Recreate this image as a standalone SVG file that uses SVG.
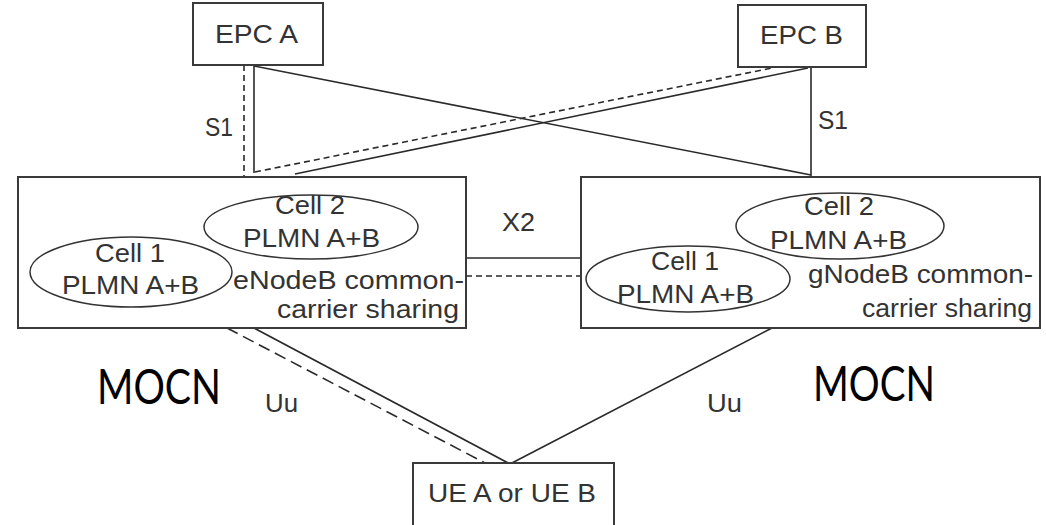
<svg xmlns="http://www.w3.org/2000/svg" width="1046" height="525" viewBox="0 0 1046 525">
<style>
.box{fill:#fff;stroke:#3a3a3a;stroke-width:2}
.cell{fill:none;stroke:#333;stroke-width:1.5}
.ln{fill:none;stroke:#2a2a2a;stroke-width:1.6}
.dash{fill:none;stroke:#2a2a2a;stroke-width:1.6;stroke-dasharray:6,4}
.dashL{fill:none;stroke:#2a2a2a;stroke-width:1.6;stroke-dasharray:12,6}
.t{font-family:"Liberation Sans",Arial,sans-serif;font-size:25px;fill:#333}
.m{font-family:Lato,"Liberation Sans",sans-serif;font-size:48px;fill:#000}
</style>
<rect width="1046" height="525" fill="#fff"/>
<g id="connectors">
<line class="dash" x1="244" y1="65" x2="244" y2="177"/>
<line class="ln" x1="254" y1="65" x2="254" y2="173"/>
<line class="ln" x1="254" y1="66" x2="811" y2="175"/>
<line class="dash" x1="255" y1="172" x2="772" y2="68"/>
<line class="ln" x1="295" y1="174" x2="808" y2="68"/>
<line class="ln" x1="811" y1="67" x2="811" y2="177"/>
<line class="ln" x1="466" y1="258" x2="580" y2="258"/>
<line class="dash" x1="466" y1="276" x2="580" y2="276"/>
<line class="dashL" x1="227" y1="328" x2="487" y2="464"/>
<line class="ln" x1="254" y1="328" x2="510" y2="464"/>
<line class="ln" x1="510" y1="464" x2="772" y2="328"/>
<text class="t" x="205" y="136" textLength="28" lengthAdjust="spacingAndGlyphs">S1</text>
<text class="t" x="818" y="129" textLength="30" lengthAdjust="spacingAndGlyphs">S1</text>
<text class="t" x="502" y="231" textLength="33" lengthAdjust="spacingAndGlyphs">X2</text>
<text class="t" x="265" y="412" textLength="33" lengthAdjust="spacingAndGlyphs">Uu</text>
<text class="t" x="707" y="412" textLength="35" lengthAdjust="spacingAndGlyphs">Uu</text>
</g>
<g id="epcA">
<rect class="box" x="193" y="3" width="130" height="62"/>
<text class="t" x="215" y="43" textLength="83" lengthAdjust="spacingAndGlyphs">EPC A</text>
</g>
<g id="epcB">
<rect class="box" x="738" y="5" width="128" height="62"/>
<text class="t" x="760" y="44" textLength="83" lengthAdjust="spacingAndGlyphs">EPC B</text>
</g>
<g id="enodeb">
<rect class="box" x="18" y="177" width="448" height="151"/>
<ellipse class="cell" cx="131" cy="272" rx="101" ry="35"/>
<ellipse class="cell" cx="311" cy="227" rx="107" ry="32"/>
<text class="t" x="95" y="262" textLength="70" lengthAdjust="spacingAndGlyphs">Cell 1</text>
<text class="t" x="62" y="294" textLength="137" lengthAdjust="spacingAndGlyphs">PLMN A+B</text>
<text class="t" x="275" y="214" textLength="70" lengthAdjust="spacingAndGlyphs">Cell 2</text>
<text class="t" x="243" y="247" textLength="137" lengthAdjust="spacingAndGlyphs">PLMN A+B</text>
<text class="t" x="233" y="289" textLength="231" lengthAdjust="spacingAndGlyphs">eNodeB common-</text>
<text class="t" x="277" y="318" textLength="182" lengthAdjust="spacingAndGlyphs">carrier sharing</text>
</g>
<g id="gnodeb">
<rect class="box" x="581" y="177" width="459" height="151"/>
<ellipse class="cell" cx="688" cy="279" rx="102" ry="33"/>
<ellipse class="cell" cx="840" cy="226" rx="104" ry="33"/>
<text class="t" x="651" y="270" textLength="68" lengthAdjust="spacingAndGlyphs">Cell 1</text>
<text class="t" x="617" y="303" textLength="137" lengthAdjust="spacingAndGlyphs">PLMN A+B</text>
<text class="t" x="804" y="215" textLength="70" lengthAdjust="spacingAndGlyphs">Cell 2</text>
<text class="t" x="770" y="249" textLength="137" lengthAdjust="spacingAndGlyphs">PLMN A+B</text>
<text class="t" x="808" y="283" textLength="225" lengthAdjust="spacingAndGlyphs">gNodeB common-</text>
<text class="t" x="862" y="317" textLength="170" lengthAdjust="spacingAndGlyphs">carrier sharing</text>
</g>
<g id="ue">
<rect class="box" x="413" y="463" width="201" height="80"/>
<text class="t" x="428" y="502" textLength="168" lengthAdjust="spacingAndGlyphs">UE A or UE B</text>
</g>
<g id="mocn-left">
<text class="m" x="97" y="404" textLength="124" lengthAdjust="spacingAndGlyphs">MOCN</text>
</g>
<g id="mocn-right">
<text class="m" x="813" y="401" textLength="122" lengthAdjust="spacingAndGlyphs">MOCN</text>
</g>
</svg>
